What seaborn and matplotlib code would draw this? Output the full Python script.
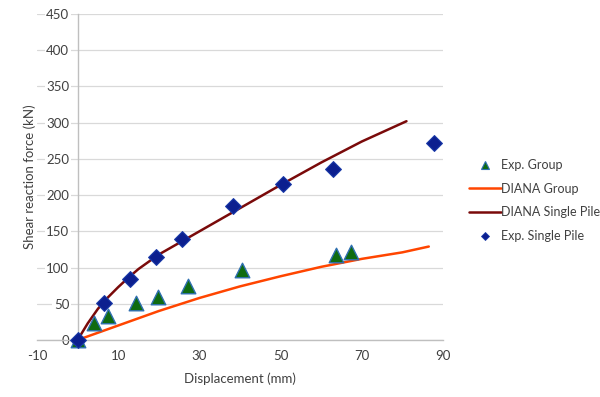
import matplotlib
matplotlib.use("Agg")
import matplotlib.pyplot as plt
import seaborn as sns
import pandas as pd
from matplotlib.lines import Line2D

# ---- data ----
exp_group_x = [0, 4.1, 7.6, 14.4, 19.8, 27.1, 40.4, 63.6, 67.4]
exp_group_y = [0, 24, 33, 50.6, 60, 74, 96, 118, 122]

exp_single_x = [0, 6.6, 12.8, 19.3, 25.8, 38.3, 50.5, 62.8, 87.7]
exp_single_y = [0, 51.5, 84.7, 115, 139, 185, 216, 236, 271.5]

diana_group_x = [0, 10, 20, 30, 40, 50, 60, 70, 80, 86.5]
diana_group_y = [0, 20, 40, 58, 74, 88, 101, 112, 121, 129]

diana_single_x = [0, 2.5, 5, 7.5, 10, 12.5, 15, 20, 25, 30, 40, 50, 60, 70, 81]
diana_single_y = [0, 23, 43, 59, 73, 86, 98, 118, 134, 150, 182, 214, 245, 274, 302]

x_ticks = [-10, 10, 30, 50, 70, 90]
y_ticks = [0, 50, 100, 150, 200, 250, 300, 350, 400, 450]

labels = ["Exp. Group", "DIANA Group", "DIANA Single Pile", "Exp. Single Pile"]

sns.set_theme(style="white")
plt.rcParams['font.family'] = ['Lato', 'DejaVu Sans']
plt.rcParams['axes.unicode_minus'] = False

txt = "#404040"
fig = plt.figure(figsize=(6.0, 3.97), dpi=100)
ax = fig.add_axes([37/600, 1-340/397, 406/600, 326/397])

c_orange = "#ff4500"
c_dred = "#7a0a0a"
c_green = "#0f6b10"
c_gedge = "#2f6fb0"
c_navy = "#0c1f8f"

df_g = pd.DataFrame({"x": diana_group_x, "y": diana_group_y})
df_s = pd.DataFrame({"x": diana_single_x, "y": diana_single_y})
sns.lineplot(data=df_g, x="x", y="y", ax=ax, color=c_orange, lw=1.8, sort=False, estimator=None, zorder=3)
sns.lineplot(data=df_s, x="x", y="y", ax=ax, color=c_dred, lw=1.8, sort=False, estimator=None, zorder=3)

sns.scatterplot(x=exp_group_x, y=exp_group_y, ax=ax, marker="^", s=110, color=c_green,
                edgecolor=c_gedge, linewidth=1.0, zorder=4, clip_on=False)
sns.scatterplot(x=exp_single_x, y=exp_single_y, ax=ax, marker="D", s=65, color=c_navy,
                edgecolor="#1a3aa8", linewidth=0.8, zorder=5, clip_on=False)
for coll in ax.collections:
    coll.set_clip_on(False)

ax.set_xlim(-10, 90)
ax.set_ylim(0, 450)
ax.set_xticks(x_ticks)
ax.set_yticks(y_ticks)
ax.grid(axis="y", color="#d9d9d9", lw=0.9, zorder=0)
ax.grid(axis="x", visible=False)

for s in ["top", "right"]:
    ax.spines[s].set_visible(False)
ax.spines["left"].set_position(("data", 0))
ax.spines["left"].set_color("#bfbfbf")
ax.spines["bottom"].set_color("#bfbfbf")
ax.spines["left"].set_linewidth(1.0)
ax.spines["bottom"].set_linewidth(1.0)
ax.set_axisbelow(True)

ax.tick_params(axis="both", length=0, labelsize=9.5, colors=txt)
ax.tick_params(axis="y", pad=6)
ax.tick_params(axis="x", pad=7)
for t in ax.get_yticklabels():
    t.set_bbox(dict(facecolor="white", edgecolor="none", pad=1))

ax.set_xlabel("Displacement (mm)", fontsize=9.5, color=txt, labelpad=8)
ax.set_ylabel("Shear reaction force (kN)", fontsize=9.5, color=txt)
ax.yaxis.set_label_coords(-0.003, 0.5)

handles = [
    Line2D([], [], ls="none", marker="^", ms=6, color=c_green, markeredgecolor=c_gedge, mew=0.8),
    Line2D([], [], color=c_orange, lw=1.8),
    Line2D([], [], color=c_dred, lw=1.8),
    Line2D([], [], ls="none", marker="D", ms=4.5, color=c_navy, markeredgecolor="#1a3aa8", mew=0.6),
]
leg = fig.legend(handles, labels, loc="upper left", bbox_to_anchor=(469/600, 1-159/397),
                 frameon=False, fontsize=9, handlelength=2.55, handletextpad=0.0,
                 labelspacing=0.93, borderaxespad=0, borderpad=0)
for t in leg.get_texts():
    t.set_color(txt)

fig.savefig("out.png", dpi=100)
